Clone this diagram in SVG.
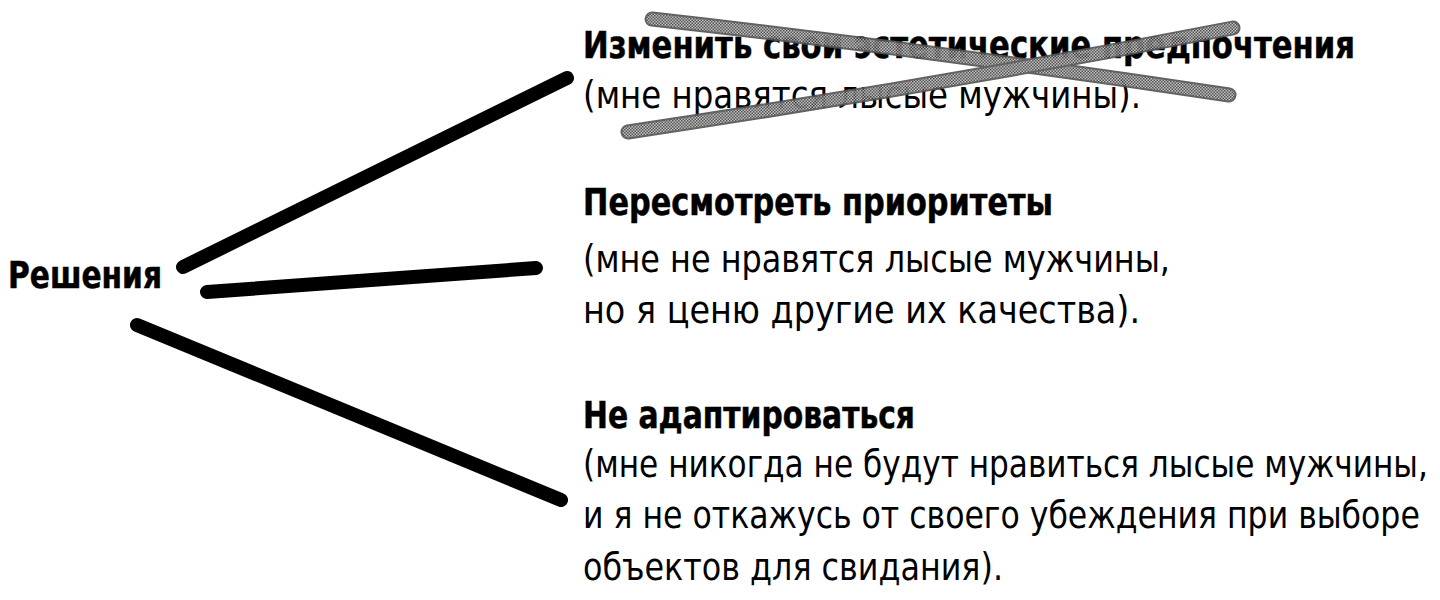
<svg xmlns="http://www.w3.org/2000/svg" width="1440" height="600" viewBox="0 0 1440 600">
<defs>
<pattern id="dither" width="3" height="3" patternUnits="userSpaceOnUse">
<rect width="3" height="3" fill="#bdbdbd"/>
<rect x="0" y="0" width="1.5" height="1.5" fill="#444"/>
<rect x="1.5" y="1.5" width="1.5" height="1.5" fill="#444"/>
</pattern>
<style>
.b{font-family:"DejaVu Sans Condensed","DejaVu Sans","Liberation Sans",sans-serif;font-stretch:condensed;font-weight:bold;font-size:37px;fill:#000;stroke:#000;stroke-width:0.5}
.r{font-family:"DejaVu Sans Condensed","DejaVu Sans","Liberation Sans",sans-serif;font-stretch:condensed;font-size:37px;fill:#000}
.ln{fill:none;stroke:#000;stroke-width:14;stroke-linecap:round}
.sc1{fill:none;stroke:#555;stroke-width:15;stroke-linecap:round}
.sc2{fill:none;stroke:url(#dither);stroke-width:11;stroke-linecap:round}
</style>
</defs>
<rect width="1440" height="600" fill="#fff"/>
<g id="root">
<text class="b" x="8" y="288" textLength="154" lengthAdjust="spacingAndGlyphs">Решения</text>
</g>
<g id="connectors">
<line class="ln" x1="183" y1="267" x2="567" y2="78"/>
<line class="ln" x1="207" y1="292" x2="536" y2="268"/>
<line class="ln" x1="137" y1="325" x2="561" y2="500"/>
</g>
<g id="option1">
<text class="b" x="583" y="58" textLength="772" lengthAdjust="spacingAndGlyphs">Изменить свои эстетические предпочтения</text>
<text class="r" x="583" y="108" textLength="558" lengthAdjust="spacingAndGlyphs">(мне нравятся лысые мужчины).</text>
<g id="crossout" opacity="0.92">
<path class="sc1" d="M652,19 Q945,52 1229,95"/>
<path class="sc2" d="M652,19 Q945,52 1229,95"/>
<path class="sc1" d="M628,132 Q935,86 1233,28"/>
<path class="sc2" d="M628,132 Q935,86 1233,28"/>
</g>
</g>
<g id="option2">
<text class="b" x="583" y="215" textLength="470" lengthAdjust="spacingAndGlyphs">Пересмотреть приоритеты</text>
<text class="r" x="583" y="272" textLength="587" lengthAdjust="spacingAndGlyphs">(мне не нравятся лысые мужчины,</text>
<text class="r" x="583" y="323" textLength="557" lengthAdjust="spacingAndGlyphs">но я ценю другие их качества).</text>
</g>
<g id="option3">
<text class="b" x="583" y="428" textLength="332" lengthAdjust="spacingAndGlyphs">Не адаптироваться</text>
<text class="r" transform="translate(583,477) scale(0.8,1)" x="0" y="0" textLength="1056" lengthAdjust="spacingAndGlyphs">(мне никогда не будут нравиться лысые мужчины,</text>
<text class="r" transform="translate(583,528) scale(0.8,1)" x="0" y="0" textLength="1046" lengthAdjust="spacingAndGlyphs">и я не откажусь от своего убеждения при выборе</text>
<text class="r" x="583" y="580" textLength="420" lengthAdjust="spacingAndGlyphs">объектов для свидания).</text>
</g>
</svg>
